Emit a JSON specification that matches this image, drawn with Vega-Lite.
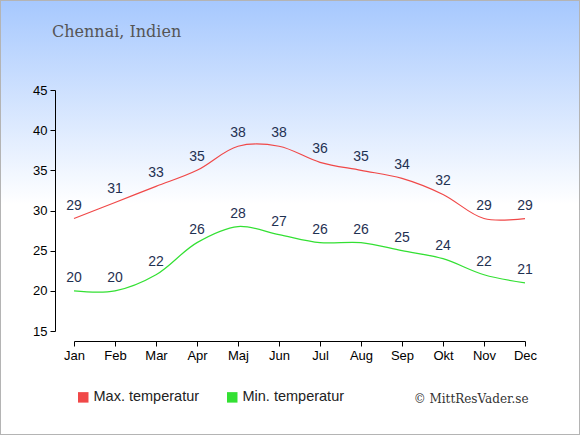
{
  "$schema": "https://vega.github.io/schema/vega-lite/v6.json",
  "width": 580,
  "height": 435,
  "padding": 0,
  "autosize": {"type": "none"},
  "background": "#ffffff",
  "config": {
    "view": {
      "fill": {
        "gradient": "linear",
        "x1": 0, "y1": 0, "x2": 0, "y2": 1,
        "stops": [
          {"offset": 0, "color": "#a6c8fe"},
          {"offset": 0.47, "color": "#ffffff"},
          {"offset": 1, "color": "#ffffff"}
        ]
      },
      "stroke": "#b4b4b4",
      "strokeWidth": 2
    },
    "font": "Liberation Sans",
    "axis": {
      "domainColor": "#000000",
      "tickColor": "#000000",
      "labelColor": "#000000",
      "labelFont": "Liberation Sans",
      "labelFontSize": 13,
      "tickSize": 5,
      "grid": false
    }
  },
  "title": {
    "text": "Chennai, Indien",
    "anchor": "start",
    "frame": "group",
    "font": "DejaVu Serif",
    "fontSize": 16,
    "fontWeight": "normal",
    "color": "#555555",
    "baseline": "alphabetic",
    "offset": 0,
    "dx": 52,
    "dy": 53
  },
  "data": {
    "values": [
      {"month": "Jan", "series": "Max. temperatur", "temp": 29},
      {"month": "Feb", "series": "Max. temperatur", "temp": 31},
      {"month": "Mar", "series": "Max. temperatur", "temp": 33},
      {"month": "Apr", "series": "Max. temperatur", "temp": 35},
      {"month": "Maj", "series": "Max. temperatur", "temp": 38},
      {"month": "Jun", "series": "Max. temperatur", "temp": 38},
      {"month": "Jul", "series": "Max. temperatur", "temp": 36},
      {"month": "Aug", "series": "Max. temperatur", "temp": 35},
      {"month": "Sep", "series": "Max. temperatur", "temp": 34},
      {"month": "Okt", "series": "Max. temperatur", "temp": 32},
      {"month": "Nov", "series": "Max. temperatur", "temp": 29},
      {"month": "Dec", "series": "Max. temperatur", "temp": 29},
      {"month": "Jan", "series": "Min. temperatur", "temp": 20},
      {"month": "Feb", "series": "Min. temperatur", "temp": 20},
      {"month": "Mar", "series": "Min. temperatur", "temp": 22},
      {"month": "Apr", "series": "Min. temperatur", "temp": 26},
      {"month": "Maj", "series": "Min. temperatur", "temp": 28},
      {"month": "Jun", "series": "Min. temperatur", "temp": 27},
      {"month": "Jul", "series": "Min. temperatur", "temp": 26},
      {"month": "Aug", "series": "Min. temperatur", "temp": 26},
      {"month": "Sep", "series": "Min. temperatur", "temp": 25},
      {"month": "Okt", "series": "Min. temperatur", "temp": 24},
      {"month": "Nov", "series": "Min. temperatur", "temp": 22},
      {"month": "Dec", "series": "Min. temperatur", "temp": 21}
    ]
  },
  "encoding": {
    "x": {
      "field": "month",
      "type": "ordinal",
      "sort": null,
      "scale": {
        "type": "point",
        "domain": ["Jan", "Feb", "Mar", "Apr", "Maj", "Jun", "Jul", "Aug", "Sep", "Okt", "Nov", "Dec"],
        "range": [74, 525],
        "padding": 0
      },
      "axis": {
        "orient": "bottom",
        "offset": -94,
        "labelAngle": 0,
        "labelPadding": 3,
        "title": "© MittResVader.se",
        "titleFont": "DejaVu Serif",
        "titleFontSize": 12,
        "titleFontWeight": "normal",
        "titleColor": "#333333",
        "titleAnchor": "end",
        "titleAlign": "right",
        "titleBaseline": "alphabetic",
        "titleX": 528,
        "titleY": 61
      }
    },
    "y": {
      "field": "temp",
      "type": "quantitative",
      "scale": {"domain": [15, 45], "range": [331, 90], "nice": false, "zero": false},
      "axis": {
        "orient": "left",
        "offset": -55,
        "values": [15, 20, 25, 30, 35, 40, 45],
        "labelPadding": 3,
        "title": null
      }
    }
  },
  "layer": [
    {
      "mark": {"type": "line", "interpolate": "catmull-rom", "strokeWidth": 1.2},
      "encoding": {
        "color": {
          "field": "series",
          "type": "nominal",
          "scale": {
            "domain": ["Max. temperatur", "Min. temperatur"],
            "range": ["#f04848", "#33e033"]
          },
          "legend": {
            "orient": "none",
            "legendX": 76,
            "legendY": 390,
            "direction": "horizontal",
            "title": null,
            "symbolType": "square",
            "symbolSize": 110,
            "symbolStrokeWidth": 0,
            "labelFont": "Liberation Sans",
            "labelFontSize": 14.5,
            "labelColor": "#222222",
            "labelOffset": 3,
            "columnPadding": 25,
            "encode": {
              "symbols": {
                "update": {
                  "fill": {"scale": "color", "field": "value"},
                  "opacity": {"value": 1}
                }
              }
            }
          }
        }
      }
    },
    {
      "mark": {
        "type": "text",
        "dy": -13,
        "fontSize": 14,
        "font": "Liberation Sans",
        "color": "#1f3152"
      },
      "encoding": {
        "text": {"field": "temp", "type": "quantitative"}
      }
    }
  ]
}
